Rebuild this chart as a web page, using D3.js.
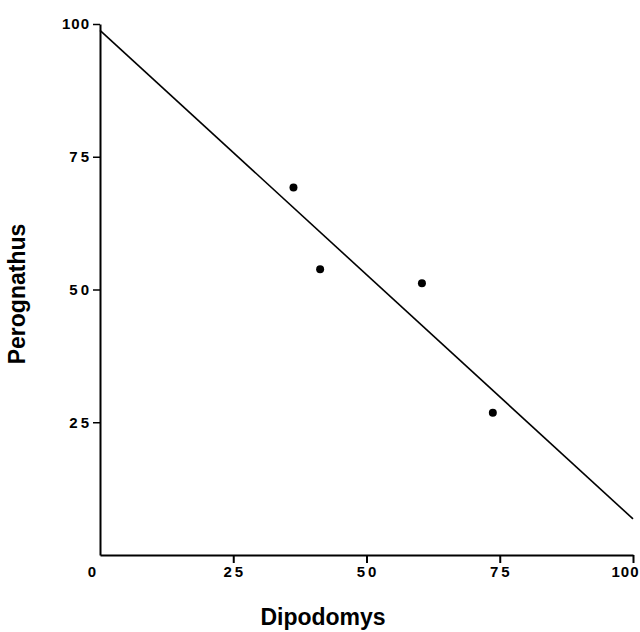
<!DOCTYPE html>
<html>
<head>
<meta charset="utf-8">
<script src="https://cdn.jsdelivr.net/npm/d3@7"></script>
<style>
  body { margin: 0; background: #fff; }
  text { font-family: "Liberation Sans", Arial, sans-serif; fill: #000; }
  .title { font-weight: bold; font-size: 23px; }
</style>
</head>
<body>
<svg id="chart"></svg>
<script>
let width = 640,
  height = 632;

// data
var dipodomys = [36.3, 41.3, 60.4, 73.7],
  perognathus = [69.2, 53.8, 51.2, 26.8],
  fitX = [0, 100],
  fitY = [98.8, 6.8],
  ticks = [0, 25, 50, 75, 100];

var x = d3.scaleLinear().domain([0, 100]).range([100, 633]);
var y = d3.scaleLinear().domain([0, 100]).range([555, 24]);

var svg = d3.select('#chart')
  .attr('width', width)
  .attr('height', height);

//styles the tick labels like the old typeset ones
function tickFont(sel) {
  sel.style('font-family', '"Liberation Sans", Arial, sans-serif')
    .style('font-weight', 'bold')
    .style('font-size', '15px')
    .style('letter-spacing', function (d) { return d === 100 ? '1px' : '3px'; });
}

// x axis
var xAxis = svg.append('g')
  .attr('transform', 'translate(0,' + y(0) + ')')
  .call(d3.axisBottom(x).tickValues(ticks.slice(1)).tickSize(8).tickSizeOuter(0));
xAxis.select('.domain').attr('stroke-width', 2);
xAxis.selectAll('.tick line').attr('stroke-width', 2);
xAxis.selectAll('.tick text')
  .call(tickFont)
  .attr('x', function (d) { return d === 100 ? -8 : 1; });

// the lone "0" at the origin
svg.append('text')
  .attr('x', x(0) - 8)
  .attr('y', y(0) + 22)
  .attr('text-anchor', 'middle')
  .style('font-weight', 'bold')
  .style('font-size', '15px')
  .text('0');

// y axis
var yAxis = svg.append('g')
  .attr('transform', 'translate(' + x(0) + ',0)')
  .call(d3.axisLeft(y).tickValues(ticks.slice(1)).tickSize(7).tickSizeOuter(0));
yAxis.select('.domain').attr('stroke-width', 2);
yAxis.selectAll('.tick line').attr('stroke-width', 1.5);
yAxis.selectAll('.tick text')
  .call(tickFont)
  .attr('x', function (d) { return d === 100 ? -10 : -8; });

// regression line
var line = d3.line()
  .x(function (d) { return x(d[0]); })
  .y(function (d) { return y(d[1]); });

svg.append('path')
  .datum(d3.zip(fitX, fitY))
  .attr('d', line)
  .attr('fill', 'none')
  .attr('stroke', '#000')
  .attr('stroke-width', 1.6);

// points
svg.selectAll('circle')
  .data(d3.zip(dipodomys, perognathus))
  .enter()
  .append('circle')
  .attr('cx', function (d) { return x(d[0]); })
  .attr('cy', function (d) { return y(d[1]); })
  .attr('r', 4)
  .attr('fill', '#000');

// axis titles
svg.append('text')
  .attr('class', 'title')
  .attr('x', 323)
  .attr('y', 625)
  .attr('text-anchor', 'middle')
  .text('Dipodomys');

svg.append('text')
  .attr('class', 'title')
  .attr('transform', 'translate(25,294)rotate(-90)')
  .attr('text-anchor', 'middle')
  .text('Perognathus');
</script>
</body>
</html>
